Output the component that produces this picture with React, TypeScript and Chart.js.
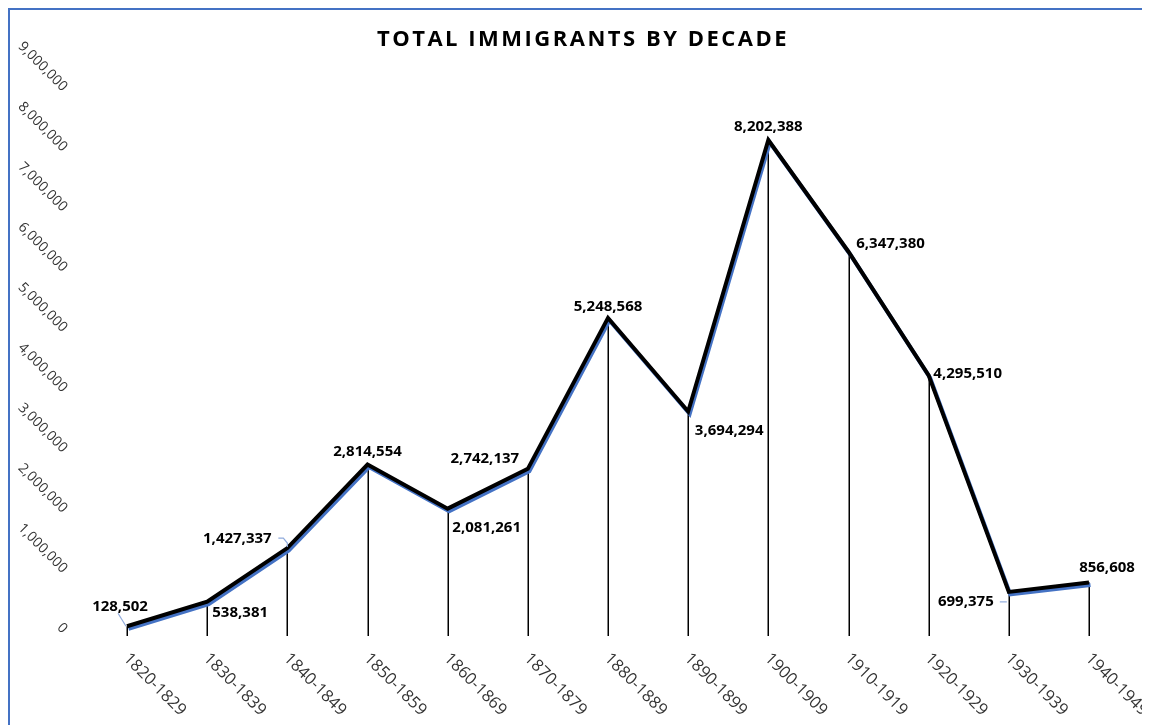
import React, { useEffect, useRef } from "react";
import { Chart, registerables } from "chart.js";

Chart.register(...registerables);

const decades: string[] = [
  "1820-1829", "1830-1839", "1840-1849", "1850-1859", "1860-1869", "1870-1879",
  "1880-1889", "1890-1899", "1900-1909", "1910-1919", "1920-1929", "1930-1939", "1940-1949",
];

const immigrants: number[] = [
  128502, 538381, 1427337, 2814554, 2081261, 2742137,
  5248568, 3694294, 8202388, 6347380, 4295510, 699375, 856608,
];

const yTicks: number[] = [0, 1000000, 2000000, 3000000, 4000000, 5000000, 6000000, 7000000, 8000000, 9000000];

// label placement relative to the point (style only)
const labelOffsets: [number, number][] = [
  [-7, -20], [33, 11], [-50, -9], [0, -13], [39, 19], [-43, -10],
  [0, -11], [41, 19], [0, -13], [42, -8], [39, -2], [-43, 10], [18, -15],
];

const fmt = (v: number) => v.toLocaleString("en-US");

const FONT = "'Open Sans', 'Noto Sans', sans-serif";

const decorPlugin = {
  id: "decor",
  beforeDraw(chart: any) {
    chart.ctx.letterSpacing = "2.5px";
  },
  beforeDatasetsDraw(chart: any) {
    const ctx = chart.ctx;
    ctx.letterSpacing = "0px";
    const meta = chart.getDatasetMeta(0);
    const yScale = chart.scales.y;
    const base = yScale.getPixelForValue(0) + 2;
    ctx.save();
    ctx.strokeStyle = "#000";
    ctx.lineWidth = 1.5;
    meta.data.forEach((pt: any) => {
      ctx.beginPath();
      ctx.moveTo(Math.round(pt.x) + 0.25, pt.y);
      ctx.lineTo(Math.round(pt.x) + 0.25, base);
      ctx.stroke();
    });
    ctx.restore();
  },
  beforeDatasetDraw(chart: any) {
    const ctx = chart.ctx;
    ctx.save();
    ctx.shadowColor = "#4472C4";
    ctx.shadowOffsetX = 1.5;
    ctx.shadowOffsetY = 2.5;
    ctx.shadowBlur = 0.5;
  },
  afterDatasetDraw(chart: any) {
    chart.ctx.restore();
  },
  afterDatasetsDraw(chart: any) {
    const ctx = chart.ctx;
    const meta = chart.getDatasetMeta(0);
    const xScale = chart.scales.x;
    const yScale = chart.scales.y;
    ctx.save();
    ctx.letterSpacing = "0px";

    // leader lines
    ctx.strokeStyle = "#8FAADC";
    ctx.lineWidth = 1.2;
    const p0 = meta.data[0];
    ctx.beginPath();
    ctx.moveTo(p0.x - 9, p0.y - 13);
    ctx.lineTo(p0.x - 1, p0.y);
    ctx.stroke();
    const p2 = meta.data[2];
    ctx.beginPath();
    ctx.moveTo(p2.x - 9, p2.y - 10);
    ctx.lineTo(p2.x - 4, p2.y - 10);
    ctx.lineTo(p2.x, p2.y - 5);
    ctx.lineTo(p2.x, p2.y - 1);
    ctx.stroke();
    const p11 = meta.data[11];
    ctx.beginPath();
    ctx.moveTo(p11.x - 9, p11.y + 10);
    ctx.lineTo(p11.x - 2, p11.y + 10);
    ctx.stroke();

    // data labels
    ctx.fillStyle = "#000";
    ctx.font = `bold 15px ${FONT}`;
    ctx.textAlign = "center";
    ctx.textBaseline = "middle";
    meta.data.forEach((pt: any, i: number) => {
      const [dx, dy] = labelOffsets[i];
      ctx.fillText(fmt(immigrants[i]), pt.x + dx, pt.y + dy);
    });

    // y tick labels, rotated
    ctx.fillStyle = "#333";
    ctx.font = `14px ${FONT}`;
    ctx.textAlign = "right";
    ctx.textBaseline = "middle";
    yTicks.forEach((v) => {
      const y = yScale.getPixelForValue(v);
      ctx.save();
      ctx.translate(55, y - 3);
      ctx.rotate(Math.PI / 4);
      ctx.fillText(fmt(v), 0, 0);
      ctx.restore();
    });

    // x tick labels, rotated
    ctx.fillStyle = "#333";
    ctx.font = `16.5px ${FONT}`;
    ctx.textAlign = "left";
    ctx.textBaseline = "middle";
    decades.forEach((d, i) => {
      const x = xScale.getPixelForValue(i);
      ctx.save();
      ctx.translate(x - 1, yScale.getPixelForValue(0) + 22);
      ctx.rotate(Math.PI / 4);
      ctx.fillText(d, 0, 0);
      ctx.restore();
    });

    ctx.restore();
  },
};

export default function App() {
  const ref = useRef<HTMLCanvasElement | null>(null);

  useEffect(() => {
    document.documentElement.style.overflow = "hidden";
    document.body.style.overflow = "hidden";
    if (!ref.current) return;
    const chart = new Chart(ref.current, {
      type: "line",
      data: {
        labels: decades,
        datasets: [
          {
            data: immigrants,
            borderColor: "#000",
            borderWidth: 4,
            pointRadius: 0,
            tension: 0,
            borderJoinStyle: "miter",
            fill: false,
          },
        ],
      },
      options: {
        responsive: false,
        animation: false,
        layout: { padding: { left: 67, right: 61, top: 0, bottom: 91 } },
        plugins: {
          legend: { display: false },
          tooltip: { enabled: false },
          title: {
            display: true,
            text: "TOTAL IMMIGRANTS BY DECADE",
            color: "#000",
            font: { family: FONT, size: 22, weight: "bold", lineHeight: 1.2 },
            padding: { top: 17, bottom: 38.6 },
          },
        },
        scales: {
          x: { display: false, offset: false },
          y: {
            display: true,
            min: 0,
            max: 9000000,
            grid: { display: false },
            border: { display: false },
            ticks: { display: false },
            afterFit: (s: any) => {
              s.width = 50;
            },
          },
        },
      },
      plugins: [decorPlugin],
    });
    return () => chart.destroy();
  }, []);

  return (
    <div
      style={{
        width: 1140,
        height: 715,
        borderTop: "2px solid #4472C4",
        borderLeft: "2px solid #4472C4",
      }}
    >
      <canvas ref={ref} width={1140} height={715} style={{ display: "block" }} />
    </div>
  );
}
